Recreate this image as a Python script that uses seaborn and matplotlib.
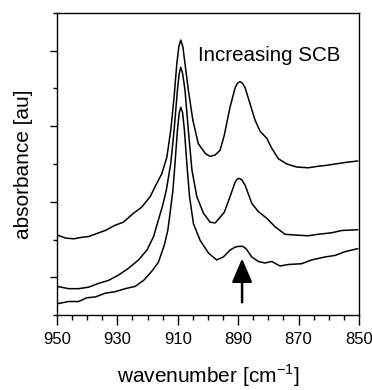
import matplotlib
matplotlib.use("Agg")
import matplotlib.pyplot as plt
import seaborn as sns
import pandas as pd
from matplotlib.ticker import MultipleLocator

# ---- data ----
x_top = [949.9, 947.2, 944.5, 941.7, 939.5, 936.8, 934.0, 930.7, 928.0, 924.6,
         921.9, 919.1, 917.5, 915.3, 913.6, 912.3, 911.2, 910.3, 909.6, 909.0,
         908.3, 907.6, 906.5, 905.0, 903.2, 900.9, 899.3, 897.6, 896.0, 894.6,
         892.7, 891.0, 890.2, 889.4, 888.6, 887.7, 886.1, 884.4, 882.7, 880.5,
         878.9, 876.7, 873.9, 870.6, 866.8, 863.5, 861.2, 857.9, 854.6, 850.4]
y_top = [1.06, 1.02, 1.01, 1.03, 1.04, 1.08, 1.12, 1.19, 1.23, 1.35,
         1.43, 1.57, 1.70, 1.87, 2.09, 2.45, 2.89, 3.33, 3.56, 3.64,
         3.55, 3.33, 2.98, 2.58, 2.27, 2.14, 2.10, 2.12, 2.18, 2.38,
         2.75, 3.01, 3.07, 3.09, 3.07, 3.01, 2.80, 2.58, 2.43, 2.34,
         2.21, 2.07, 2.00, 1.96, 1.95, 1.97, 1.98, 2.00, 2.02, 2.04]

x_mid = [949.9, 946.1, 942.8, 939.5, 936.2, 932.9, 929.6, 926.3, 923.0, 920.2,
         918.0, 916.4, 915.0, 913.8, 912.3, 911.2, 910.1, 909.5, 909.0, 908.4,
         907.6, 906.5, 905.3, 903.7, 901.5, 899.3, 897.6, 894.6, 892.4, 891.0,
         890.3, 889.6, 888.8, 887.7, 885.5, 883.3, 880.5, 877.8, 874.5, 871.2,
         866.8, 863.5, 859.0, 855.7, 850.4]
y_mid = [0.38, 0.35, 0.35, 0.37, 0.42, 0.46, 0.53, 0.62, 0.73, 0.86,
         1.04, 1.26, 1.45, 1.65, 2.01, 2.45, 2.98, 3.20, 3.28, 3.20,
         2.98, 2.45, 1.92, 1.57, 1.35, 1.23, 1.22, 1.36, 1.60, 1.76,
         1.80, 1.81, 1.79, 1.72, 1.48, 1.37, 1.28, 1.17, 1.07, 1.06,
         1.05, 1.07, 1.09, 1.12, 1.13]

x_bot = [949.9, 946.1, 942.8, 940.1, 937.3, 934.0, 930.7, 927.4, 924.1, 921.3,
         918.6, 916.4, 914.5, 913.3, 912.7, 911.6, 910.9, 910.1, 909.5, 909.0,
         908.4, 907.8, 907.0, 906.1, 904.8, 902.6, 899.8, 897.1, 894.9, 892.7,
         891.0, 889.9, 888.5, 887.4, 885.5, 883.3, 881.1, 878.9, 876.1, 873.4,
         869.0, 865.7, 861.2, 857.9, 854.6, 850.4]
y_bot = [0.15, 0.18, 0.18, 0.23, 0.24, 0.29, 0.31, 0.35, 0.38, 0.46,
         0.58, 0.70, 0.92, 1.12, 1.30, 1.65, 2.01, 2.45, 2.68, 2.75,
         2.68, 2.45, 2.01, 1.57, 1.21, 0.99, 0.82, 0.73, 0.77, 0.86,
         0.90, 0.91, 0.91, 0.88, 0.77, 0.71, 0.69, 0.71, 0.65, 0.67,
         0.68, 0.73, 0.77, 0.79, 0.84, 0.88]

x_ticks = [950, 930, 910, 890, 870, 850]
annot_text = "Increasing SCB"
annot_pos = (903.4, 3.36)
arrow_x = 888.7
arrow_y = (0.17, 0.75)

# ---- style ----
sns.set_style("ticks")
plt.rcParams["font.family"] = ["Liberation Sans", "DejaVu Sans"]
plt.rcParams["mathtext.fontset"] = "custom"
plt.rcParams["mathtext.rm"] = "Liberation Sans"

fig = plt.figure(figsize=(3.72, 3.90), dpi=100)
ax = fig.add_axes([0.153, 0.192, 0.812, 0.775])

for xs, ys in [(x_top, y_top), (x_mid, y_mid), (x_bot, y_bot)]:
    df = pd.DataFrame({"wn": xs, "abs": ys})
    sns.lineplot(data=df, x="wn", y="abs", sort=False, estimator=None,
                 color="black", lw=1.1, ax=ax)

ax.set_xlim(950, 850)
ax.set_ylim(0, 4)
ax.set_xticks(x_ticks)
ax.set_xticklabels([str(t) for t in x_ticks])
ax.xaxis.set_minor_locator(MultipleLocator(5))
ax.yaxis.set_major_locator(MultipleLocator(1, offset=0.5))
ax.yaxis.set_minor_locator(MultipleLocator(1))
ax.set_yticklabels([])

for s in ax.spines.values():
    s.set_linewidth(1.0)
    s.set_color("black")

ax.tick_params(axis="x", which="major", direction="out", length=7.2, width=1.0,
               labelsize=12, pad=5, color="black", labelcolor="black")
ax.tick_params(axis="x", which="minor", direction="out", length=3.6, width=1.0,
               color="black")
ax.tick_params(axis="y", which="major", direction="out", length=5, width=1.0,
               color="black")
ax.tick_params(axis="y", which="minor", direction="out", length=2.9, width=1.0,
               color="black")

ax.set_xlabel(r"wavenumber [cm$^{\mathregular{-1}}$]", fontsize=15, labelpad=11,
              color="black")
ax.set_ylabel("absorbance [au]", fontsize=15, labelpad=8.5, color="black")

ax.text(annot_pos[0], annot_pos[1], annot_text, fontsize=14.8, ha="left",
        va="baseline", color="black")

ax.annotate("", xy=(arrow_x, arrow_y[1]), xytext=(arrow_x, arrow_y[0]),
            arrowprops=dict(arrowstyle="-|>,head_length=1.45,head_width=0.62",
                            mutation_scale=10, lw=1.8, color="black",
                            shrinkA=0, shrinkB=0))

fig.savefig("out.png", dpi=100)
